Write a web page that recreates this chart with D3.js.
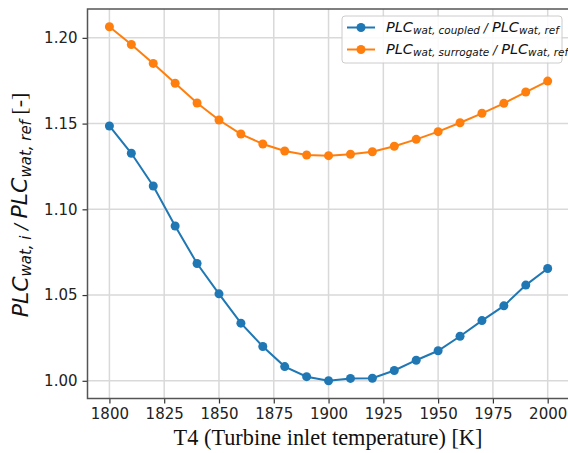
<!DOCTYPE html>
<html><head><meta charset="utf-8">
<script src="https://cdn.jsdelivr.net/npm/d3@7"></script>
<style>body{margin:0;background:#fff}svg{display:block}</style>
</head><body>
<script>
const temps = [1800,1810,1820,1830,1840,1850,1860,1870,1880,1890,1900,1910,1920,1930,1940,1950,1960,1970,1980,1990,2000];
const coupled = [1.1486,1.1327,1.1136,1.0903,1.0684,1.0507,1.0336,1.0200,1.0083,1.0024,1.0000,1.0014,1.0015,1.0060,1.0120,1.0175,1.0260,1.0351,1.0437,1.0558,1.0655];
const surrogate = [1.2065,1.1961,1.1851,1.1735,1.1620,1.1521,1.1439,1.1381,1.1340,1.1317,1.1313,1.1321,1.1336,1.1368,1.1408,1.1453,1.1505,1.1560,1.1618,1.1684,1.1748];
const xTicks = [1800,1825,1850,1875,1900,1925,1950,1975,2000];
const yTicks = [1.00,1.05,1.10,1.15,1.20];
const seriesNames = ["coupled","surrogate"];
const colors = ["#1f77b4","#ff7f0e"];

const W=568,H=453;
const L=87.5,R=569.6,T=9,B=398.5;
const svg=d3.select("body").append("svg").attr("width",W).attr("height",H);

const xmin=d3.min(temps),xmax=d3.max(temps),xp=(xmax-xmin)*0.05;
const all=coupled.concat(surrogate);
const ymin=d3.min(all),ymax=d3.max(all),yp=(ymax-ymin)*0.05;
const x=d3.scaleLinear().domain([xmin-xp,xmax+xp]).range([L,R]);
const y=d3.scaleLinear().domain([ymin-yp,ymax+yp]).range([B,T]);

// grid
const g=svg.append("g");
g.selectAll(".gx").data(xTicks).enter().append("line")
 .attr("x1",d=>x(d)).attr("x2",d=>x(d)).attr("y1",T).attr("y2",B)
 .attr("stroke","#d9d9d9").attr("stroke-width",1.5);
g.selectAll(".gy").data(yTicks).enter().append("line")
 .attr("y1",d=>y(d)).attr("y2",d=>y(d)).attr("x1",L).attr("x2",R)
 .attr("stroke","#d9d9d9").attr("stroke-width",1.5);

// axes
const xa=svg.append("g").attr("transform",`translate(0,${B})`)
 .call(d3.axisBottom(x).tickValues(xTicks).tickSize(5).tickPadding(5).tickFormat(d3.format("d")));
const ya=svg.append("g").attr("transform",`translate(${L},0)`)
 .call(d3.axisLeft(y).tickValues(yTicks).tickSize(5).tickPadding(5).tickFormat(d3.format(".2f")));
[xa,ya].forEach(a=>{
 a.select(".domain").remove();
 a.selectAll(".tick line").attr("stroke","#333").attr("stroke-width",1.2);
 a.selectAll(".tick text").attr("font-family","DejaVu Sans").attr("font-size",15).attr("fill","#222");
});

// spines
svg.append("rect").attr("x",L).attr("y",T).attr("width",R-L).attr("height",B-T)
 .attr("fill","none").attr("stroke","#555").attr("stroke-width",1.5);

// lines
const line=d3.line().x((d,i)=>x(temps[i])).y(d=>y(d));
[coupled,surrogate].forEach((s,k)=>{
 svg.append("path").datum(s).attr("d",line).attr("fill","none").attr("stroke",colors[k]).attr("stroke-width",2);
 svg.selectAll(".m"+k).data(s).enter().append("circle")
  .attr("cx",(d,i)=>x(temps[i])).attr("cy",d=>y(d)).attr("r",4.5).attr("fill",colors[k]);
});

// x label
svg.append("text").attr("x",328).attr("y",445).attr("text-anchor","middle")
 .attr("font-family","Liberation Serif").attr("font-size",22.3).attr("fill","#111")
 .text("T4 (Turbine inlet temperature) [K]");

// y label
const yl=svg.append("text").attr("transform",`translate(28,205) rotate(-90)`)
 .attr("text-anchor","middle").attr("font-size",22).attr("fill","#111");
function mt(el,parts){
 parts.forEach(p=>{
  const t=el.append("tspan").text(p.t).attr("font-family",p.f||"DejaVu Sans").attr("font-style",p.i?"italic":"normal");
  if(p.s) t.attr("font-size",p.s);
  if(p.dy) t.attr("dy",p.dy);
 });
}
mt(yl,[{t:"PLC",i:1},{t:"wat, i",i:1,s:"68%",dy:"0.22em"},{t:" / ",s:"80%",dy:"-0.22em",i:1},{t:"PLC",i:1},{t:"wat, ref",i:1,s:"68%",dy:"0.22em"},{t:" [-]",f:"Liberation Serif",dy:"-0.22em"}]);

// legend
const lg=svg.append("g");
lg.append("rect").attr("x",342).attr("y",16).attr("width",220).attr("height",47).attr("rx",3)
 .attr("fill","#fff").attr("fill-opacity",0.85).attr("stroke","#ccc").attr("stroke-width",1);
seriesNames.forEach((n,k)=>{
 const cy=27.5+k*22;
 lg.append("line").attr("x1",347).attr("x2",375).attr("y1",cy).attr("y2",cy).attr("stroke",colors[k]).attr("stroke-width",2);
 lg.append("circle").attr("cx",361).attr("cy",cy).attr("r",4.5).attr("fill",colors[k]);
 const t=lg.append("text").attr("x",386).attr("y",cy+4.5).attr("font-size",14.5).attr("fill","#111");
 mt(t,[{t:"PLC",i:1},{t:"wat, "+n,i:1,s:"72%",dy:"0.22em"},{t:" / ",s:"85%",dy:"-0.22em",i:1},{t:"PLC",i:1},{t:"wat, ref",i:1,s:"72%",dy:"0.22em"}]);
});
</script>
</body></html>
